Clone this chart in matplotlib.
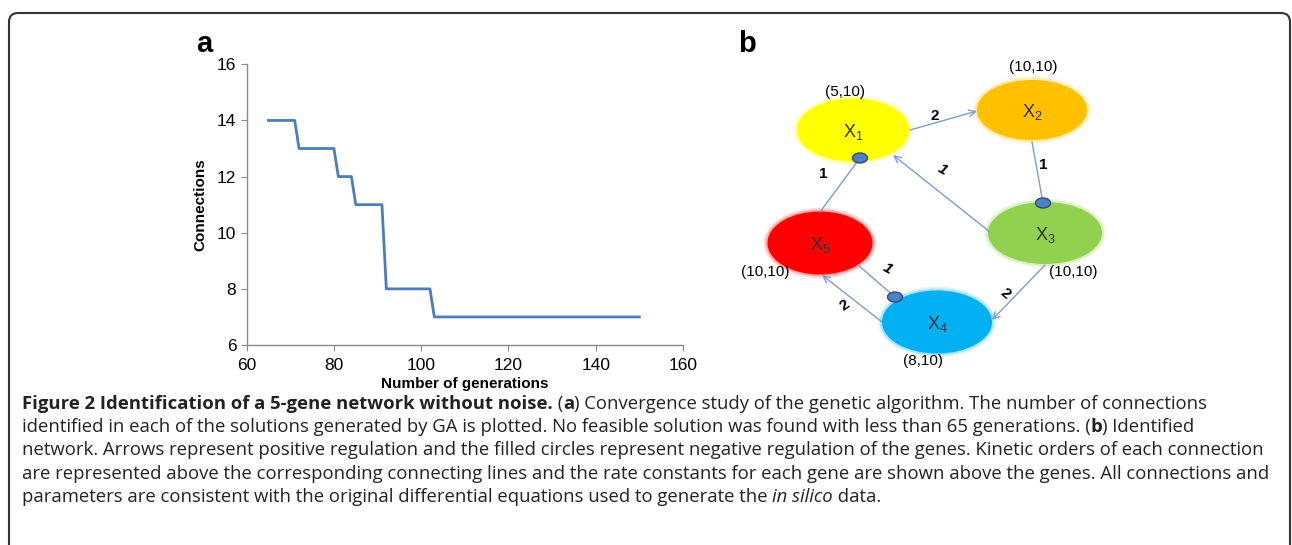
import matplotlib
matplotlib.use("Agg")
import matplotlib.pyplot as plt
from matplotlib.patches import Ellipse, FancyBboxPatch

plt.rcParams['font.family'] = ['Liberation Sans', 'DejaVu Sans']
plt.rcParams['mathtext.fontset'] = 'custom'
plt.rcParams['mathtext.rm'] = 'Liberation Sans'
plt.rcParams['mathtext.it'] = 'Liberation Sans:italic'

# GA convergence: best number of connections per generation count
generations = [65, 71, 72, 80, 81, 84, 85, 91, 92, 102, 103, 150]
connections = [14, 14, 13, 13, 12, 12, 11, 11, 8, 8, 7, 7]

# identified network
genes = ['X$_1$', 'X$_2$', 'X$_3$', 'X$_4$', 'X$_5$']
gene_colors = ['#ffff00', '#ffc000', '#92d050', '#00b0f0', '#ff0000']
rate_constants = ['(5,10)', '(10,10)', '(10,10)', '(8,10)', '(10,10)']
activations = [(1, 2, '2'), (3, 1, '1'), (3, 4, '2'), (4, 5, '2')]
inhibitions = [(2, 3, '1'), (5, 1, '1'), (5, 4, '1')]

W, H = 1292, 545
fig = plt.figure(figsize=(W / 100, H / 100), dpi=100)

# ---- panel a ----
ax = fig.add_axes([246.7 / W, 1 - 345 / H, (683 - 246.7) / W, (345 - 64.3) / H])
ax.plot(generations, connections, color='#4a7ebb', lw=2.0, solid_joinstyle='round')
ax.set_xlim(60, 160)
ax.set_ylim(6, 16)
ax.set_xticks(range(60, 161, 20))
ax.set_yticks(range(6, 17, 2))
for s in ['top', 'right']:
    ax.spines[s].set_visible(False)
for s in ['left', 'bottom']:
    ax.spines[s].set_color('#8a8a8a')
    ax.spines[s].set_linewidth(1.0)
ax.tick_params(colors='#8a8a8a', labelcolor='black', labelsize=12.5, length=4)
ax.tick_params(axis='x', pad=5)
ax.set_xlabel('Number of generations', fontsize=11, fontweight='bold', labelpad=3)
ax.set_ylabel('Connections', fontsize=11, fontweight='bold', labelpad=7)

# ---- overlay in pixel coordinates ----
ov = fig.add_axes([0, 0, 1, 1], zorder=-1)
ov.set_xlim(0, W)
ov.set_ylim(H, 0)
ov.axis('off')

frame = FancyBboxPatch((9, 13), 1281, 560, boxstyle='round,pad=0,rounding_size=9',
                       fc='none', ec='#333333', lw=1.5)
ov.add_patch(frame)

ov.text(196, 52, 'a', fontsize=21, fontweight='bold', ha='left', va='baseline')
ov.text(738, 52, 'b', fontsize=21, fontweight='bold', ha='left', va='baseline')

ov2 = fig.add_axes([0, 0, 1, 1])
ov2.set_xlim(0, W)
ov2.set_ylim(H, 0)
ov2.axis('off')

centers = {1: (853, 130), 2: (1032, 110), 3: (1045, 233), 4: (937, 322), 5: (820, 243)}
sizes = {1: (112, 63), 2: (110, 60), 3: (114, 62), 4: (110, 63), 5: (105, 63)}
for i in range(5):
    cx, cy = centers[i + 1]
    w, h = sizes[i + 1]
    for grow, a in [(8, 0.12), (4, 0.25)]:
        ov2.add_patch(Ellipse((cx, cy), w + grow, h + grow, fc=gene_colors[i], ec='none', alpha=a, zorder=1))
    ov2.add_patch(Ellipse((cx, cy), w, h, fc=gene_colors[i], ec='none', zorder=2))
    ov2.text(cx, cy + 2, genes[i], fontsize=13, ha='center', va='center', color='#333333', zorder=5)

edge_c = '#7b9cd0'
# positive regulation
arrow_pts = {(1, 2): ((910, 130), (977, 111)),
             (3, 1): ((990, 232), (893, 155)),
             (3, 4): ((1045, 265), (992, 320)),
             (4, 5): ((882, 322), (822, 275))}
arrow_lbl = {(1, 2): (935, 116, 0, False),
             (3, 1): (942, 170, -30, True),
             (3, 4): (1005, 294, -40, False),
             (4, 5): (845, 305, 35, False)}
for src, dst, k in activations:
    p0, p1 = arrow_pts[(src, dst)]
    ov2.annotate('', xy=p1, xytext=p0, zorder=3,
                 arrowprops=dict(arrowstyle='->', color=edge_c, lw=1.0, shrinkA=0, shrinkB=0,
                                 mutation_scale=12))
    lx, ly, rot, it = arrow_lbl[(src, dst)]
    ov2.text(lx, ly, k, fontsize=11, fontweight='bold', rotation=rot,
             style='italic' if it else 'normal', ha='center', va='center', zorder=5)

# negative regulation
inhib_pts = {(2, 3): ((1032, 142), (1043, 203)),
             (5, 1): ((820, 212), (860, 158)),
             (5, 4): ((858, 265), (895, 297))}
inhib_lbl = {(2, 3): (1043, 165, 0, False),
             (5, 1): (823, 174, 0, False),
             (5, 4): (887, 269, -30, True)}
for src, dst, k in inhibitions:
    p0, p1 = inhib_pts[(src, dst)]
    ov2.plot([p0[0], p1[0]], [p0[1], p1[1]], color=edge_c, lw=1.0, zorder=3)
    ov2.add_patch(Ellipse(p1, 15, 10, fc='#4f81bd', ec='#2c4d7a', lw=1.0, zorder=4))
    lx, ly, rot, it = inhib_lbl[(src, dst)]
    ov2.text(lx, ly, k, fontsize=11, fontweight='bold', rotation=rot,
             style='italic' if it else 'normal', ha='center', va='center', zorder=5)

rate_pos = {1: (845, 92), 2: (1033, 67), 3: (1073, 272), 4: (923, 361), 5: (765, 272)}
for i in range(5):
    x, y = rate_pos[i + 1]
    ov2.text(x, y, rate_constants[i], fontsize=11, ha='center', va='center', zorder=5)

# ---- caption ----
cap_size = 13.3
cap_font = ['Open Sans', 'DejaVu Sans']
renderer = fig.canvas.get_renderer()


def run_width(s, **kw):
    t1 = fig.text(0, 0, s + '|', fontsize=cap_size, family=cap_font, **kw)
    t2 = fig.text(0, 0, '|', fontsize=cap_size, family=cap_font, **kw)
    w = t1.get_window_extent(renderer).width - t2.get_window_extent(renderer).width
    t1.remove()
    t2.remove()
    return w


def draw_line(y, runs):
    x = 22
    for s, kw in runs:
        fig.text(x / W, 1 - y / H, s, fontsize=cap_size, family=cap_font,
                 va='baseline', color='#222222', **kw)
        x += run_width(s, **kw)


B = dict(fontweight='bold')
I = dict(style='italic')
N = dict()
caption = [
    [('Figure 2 Identification of a 5-gene network without noise.', B), (' (', N), ('a', B),
     (') Convergence study of the genetic algorithm. The number of connections', N)],
    [('identified in each of the solutions generated by GA is plotted. No feasible solution was found '
      'with less than 65 generations. (', N), ('b', B), (') Identified', N)],
    [('network. Arrows represent positive regulation and the filled circles represent negative '
      'regulation of the genes. Kinetic orders of each connection', N)],
    [('are represented above the corresponding connecting lines and the rate constants for each gene '
      'are shown above the genes. All connections and', N)],
    [('parameters are consistent with the original differential equations used to generate the ', N),
     ('in silico', I), (' data.', N)],
]
for j, runs in enumerate(caption):
    draw_line(409 + j * 23.2, runs)

fig.savefig('out.png', dpi=100)
